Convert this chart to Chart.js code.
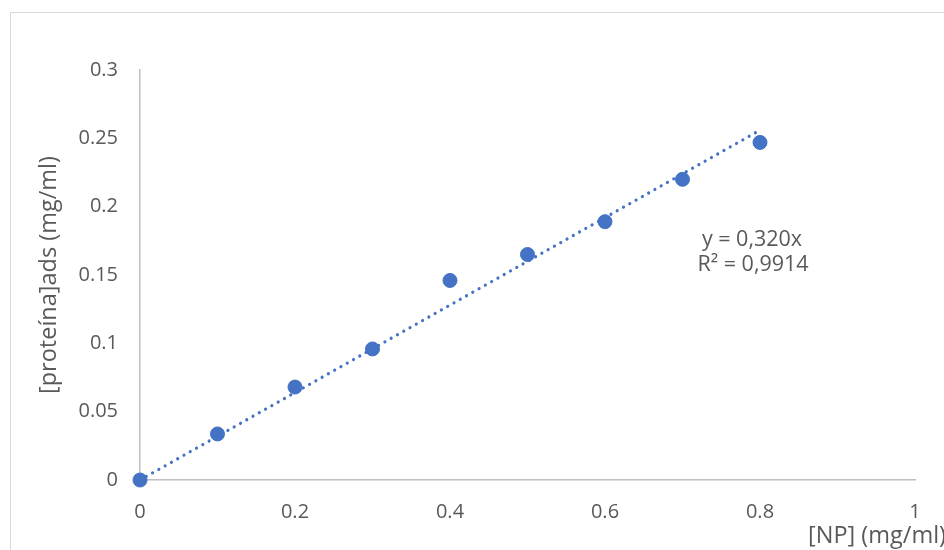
<!DOCTYPE html>
<html><head><meta charset="utf-8">
<script src="https://cdn.jsdelivr.net/npm/chart.js@4"></script>
<style>html,body{margin:0;padding:0;background:#fff}#wrap{width:944px;height:550px}</style>
</head><body><div id="wrap"><canvas id="c" width="944" height="550"></canvas></div>
<script>
const xValues = [0, 0.1, 0.2, 0.3, 0.4, 0.5, 0.6, 0.7, 0.8];
const yValues = [0, 0.0337, 0.068, 0.0959, 0.146, 0.165, 0.189, 0.220, 0.247];
const slope = 0.320;
const trendX = [0, 0.8];
const xTicks = [0, 0.2, 0.4, 0.6, 0.8, 1];
const yTicks = [0, 0.05, 0.1, 0.15, 0.2, 0.25, 0.3];
const eqText = ["y = 0,320x", "R\u00b2 = 0,9914"];
const xTitle = "[NP] (mg/ml)";
const yTitle = "[prote\u00edna]ads (mg/ml)";

const FONT = "'Open Sans', sans-serif";
const TXT = '#595959';

const deco = {
  id: 'deco',
  beforeDraw(chart) {
    const ctx = chart.ctx;
    ctx.save();
    ctx.fillStyle = '#fff';
    ctx.fillRect(0, 0, chart.width, chart.height);
    ctx.strokeStyle = '#d9d9d9';
    ctx.lineWidth = 1;
    ctx.strokeRect(10.5, 12.5, 1000, 600);
    ctx.restore();
  },
  afterDraw(chart) {
    const ctx = chart.ctx;
    ctx.save();
    ctx.fillStyle = TXT;
    ctx.font = "21.5px " + FONT;
    ctx.textAlign = 'center';
    ctx.textBaseline = 'middle';
    ctx.fillText(eqText[0], 752, 240);
    ctx.fillText(eqText[1], 753, 265);
    ctx.font = "23.5px " + FONT;
    ctx.textAlign = 'right';
    ctx.fillText(xTitle, 946, 536);
    ctx.translate(49, 275);
    ctx.rotate(-Math.PI / 2);
    ctx.textAlign = 'center';
    ctx.fillText(yTitle, 0, 0);
    ctx.restore();
  }
};

new Chart(document.getElementById('c'), {
  type: 'scatter',
  data: {
    datasets: [
      {
        label: 'data',
        data: xValues.map((x, i) => ({x: x, y: yValues[i]})),
        backgroundColor: '#4472C4',
        borderColor: '#4472C4',
        pointRadius: 7,
        pointHoverRadius: 7,
        clip: false,
        order: 1
      },
      {
        label: 'trend',
        type: 'line',
        data: trendX.map(x => ({x: x, y: slope * x})),
        borderColor: '#4472C4',
        borderWidth: 3.2,
        borderDash: [0.01, 7.2],
        borderCapStyle: 'round',
        pointRadius: 0,
        fill: false,
        clip: false,
        order: 2
      }
    ]
  },
  options: {
    responsive: false,
    animation: false,
    events: [],
    layout: { padding: { left: 0, top: 70, right: 29, bottom: 0 } },
    plugins: { legend: { display: false }, tooltip: { enabled: false } },
    scales: {
      x: {
        type: 'linear', min: 0, max: 1,
        afterBuildTicks(s) { s.ticks = xTicks.map(v => ({value: v})); },
        afterFit(s) { s.height = 70; },
        grid: { display: false, drawTicks: false },
        border: { display: true, color: '#bfbfbf', width: 1.5 },
        ticks: { color: TXT, font: { family: FONT, size: 20 }, padding: 20, callback: v => String(v) }
      },
      y: {
        type: 'linear', min: 0, max: 0.3,
        afterBuildTicks(s) { s.ticks = yTicks.map(v => ({value: v})); },
        afterFit(s) { s.width = 140; },
        grid: { display: false, drawTicks: false },
        border: { display: true, color: '#bfbfbf', width: 1.5 },
        ticks: { color: TXT, font: { family: FONT, size: 20 }, padding: 22, callback: v => String(v) }
      }
    }
  },
  plugins: [deco]
});
</script></body></html>
